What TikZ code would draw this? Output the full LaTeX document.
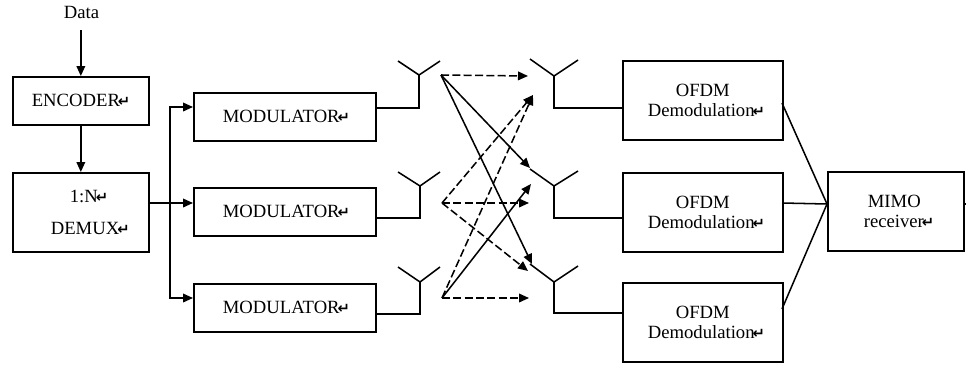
\documentclass[tikz,border=0pt]{standalone}
\usepackage{fontspec}
\setmainfont{Liberation Serif}
\newfontfamily\symfont{DejaVu Sans}
\usetikzlibrary{arrows.meta}
\newcommand{\rt}{\kern-1.5pt{\symfont\bfseries\fontsize{11}{11}\selectfont ↵}}
\newcommand{\ind}[1]{\hspace*{#1pt}}
\tikzset{
  x=0.75pt,y=-0.75pt,
  every node/.style={font=\fontsize{14}{15.5}\selectfont},
  boxnode/.style={draw=black,line width=1.25pt,rectangle,inner sep=0pt,align=left,anchor=north west},
  wire/.style={line width=1.15pt,black},
  arr/.style={wire,-{Triangle[length=7.5pt,width=6.5pt]}},
  dasharr/.style={arr,dash pattern=on 6pt off 2.5pt},
}
\newcommand{\bx}[6]{% name, x, y, w, h, text
  \node[boxnode,minimum width=#4*0.75pt,minimum height=#5*0.75pt,text width=#4*0.75pt] (#1) at (#2,#3) {#6};}
\begin{document}
\begin{tikzpicture}
\useasboundingbox (0,0) rectangle (966,364);
\node[inner xsep=0pt,inner ysep=9pt,anchor=base] (data) at (81.5,18) {Data};
\bx{enc}{12}{76}{136}{48}{\ind{14.25}ENCODER\rt}
\bx{dem}{12}{172}{136}{79}{\ind{42.75}1:N\rt\\[8.5pt]\ind{28.5}DEMUX\rt}
\bx{modA}{193}{92}{182}{48}{\ind{21.75}MODULATOR\rt}
\bx{modB}{193}{187}{182}{48}{\ind{21.75}MODULATOR\rt}
\bx{modC}{193}{283}{182}{48}{\ind{21.75}MODULATOR\rt}
\bx{ofA}{622}{60}{160}{79}{\ind{39.75}OFDM\\\ind{18.75}Demodulation\rt}
\bx{ofB}{622}{172}{160}{79}{\ind{39.75}OFDM\\\ind{18.75}Demodulation\rt}
\bx{ofC}{622}{282}{160}{79}{\ind{39.75}OFDM\\\ind{18.75}Demodulation\rt}
\bx{mimo}{827}{171}{136}{79}{\ind{30}MIMO\\\ind{27}receiver\rt}

% named connection points
\coordinate (busT) at (170,107); \coordinate (busM) at (170,203); \coordinate (busB) at (170,298);
\coordinate (inA) at (193,107);  \coordinate (inB) at (193,203);  \coordinate (inC) at (193,298);
\coordinate (demOut) at (148,203);
\coordinate (txA) at (419,75); \coordinate (txB) at (420,186); \coordinate (txC) at (420,282);
\coordinate (rxA) at (554,76); \coordinate (rxB) at (554,186); \coordinate (rxC) at (554,282);
\coordinate (tipTA) at (441,75); \coordinate (tipTB) at (442,203); \coordinate (tipTC) at (442,298);
\coordinate (mimoIn) at (827,204); \coordinate (mimoOut) at (966,204);

\draw[arr] (enc.north |- data.south) -- (enc.north);
\draw[arr] (enc) -- (dem);
\draw[arr] (demOut) -- (inB);
\draw[arr] (busM) -- (busT) -- (inA);
\draw[arr] (busM) -- (busB) -- (inC);

% transmit antennas
\draw[wire] (modA.east |- 0,108) -| (txA) (398,61) -- (txA) -- (440,61);
\draw[wire] (modB.east |- 0,218) -| (txB) (398,172) -- (txB) -- (440,172);
\draw[wire] (modC.east |- 0,314) -| (txC) (398,267) -- (txC) -- (440,267);
% receive antennas
\draw[wire] (ofA.west |- 0,108) -| (rxA) (530,59) -- (rxA) -- (578,60);
\draw[wire] (ofB.west |- 0,218) -| (rxB) (530,169) -- (rxB) -- (578,171);
\draw[wire] (ofC.west |- 0,313) -| (rxC) (530,264) -- (rxC) -- (578,266);

% channel paths
\draw[dasharr] (tipTA) -- (528,76);
\draw[arr] (tipTA) -- (530,168);
\draw[arr] (tipTA) -- (532,264);
\draw[dasharr] (tipTB) -- (533,95);
\draw[dasharr] (tipTB) -- (529,203);
\draw[dasharr] (tipTB) -- (528,271);
\draw[dasharr] (tipTC) -- (533,95);
\draw[arr] (tipTC) -- (531,184);
\draw[dasharr] (tipTC) -- (529,298);

% to MIMO receiver
\draw[wire] (782,103) -- (mimoIn);
\draw[wire] (782,203) -- (mimoIn);
\draw[wire] (782,309) -- (mimoIn);
\draw[wire] (mimo.east |- mimoOut) -- (mimoOut);
\end{tikzpicture}
\end{document}
